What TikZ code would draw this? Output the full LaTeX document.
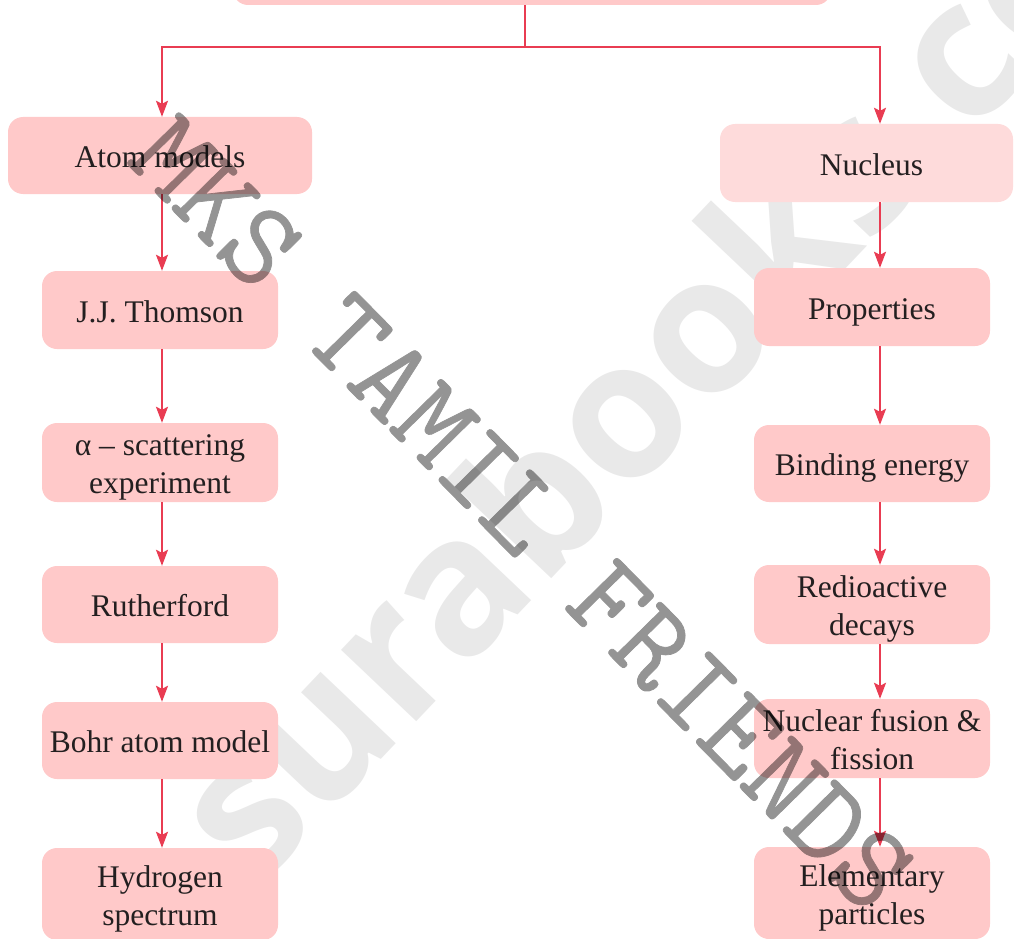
\documentclass[tikz,border=0pt]{standalone}
\usepackage{fontspec}
\setmainfont{Liberation Serif}
\newfontfamily\wmfont{Open Sans}
\newfontfamily\wmtt{Latin Modern Mono}[FakeBold=0.6]
\usetikzlibrary{arrows.meta}
\definecolor{boxpink}{RGB}{255,201,201}
\definecolor{nucpink}{RGB}{254,219,219}
\definecolor{linered}{RGB}{233,60,82}
\definecolor{txt}{RGB}{35,31,32}
\definecolor{wmgray}{RGB}{233,233,233}
\newcommand\twol[2]{\rule{0pt}{31.5pt}#1\\#2\rule[-7pt]{0pt}{7pt}}
\begin{document}
\begin{tikzpicture}[x=1pt,y=-1pt,
  box/.style={draw=none, fill=boxpink, rounded corners=15pt, minimum width=236pt,
    minimum height=78pt, inner sep=0pt, text=txt, font=\fontsize{31.5}{38}\selectfont},
  one/.style={text height=24pt, text depth=0pt},
  two/.style={align=center},
  ln/.style={draw=linered, line width=1.8pt},
  arr/.style={ln, -{Stealth[length=16pt,width=12pt,inset=3pt]}},
  wmA/.style={font=\wmfont\bfseries\fontsize{190}{190}\selectfont, text=wmgray, inner sep=0pt},
  wmB/.style={font=\wmtt\fontsize{121}{121}\selectfont, text=black, inner sep=0pt}]
\useasboundingbox (0,0) rectangle (1014,939);
\clip (0,0) rectangle (1014,939);
% background watermark
\node[wmA, rotate=46.5, anchor=base west] (wm1) at (255,892) {surabooks.com};
% boxes
\node[box, minimum width=598pt, minimum height=70pt] (top) at (532,-30) {};
\node[box, one, minimum width=304pt, minimum height=77pt] (atom) at (160,155.5) {Atom models};
\node[box, one, fill=nucpink, minimum width=293pt] (nuc) at (866.5,163) {\hspace*{10pt}Nucleus};
\node[box, one] (jj) at (160,310) {J.J. Thomson};
\node[box, two, minimum height=79pt] (alpha) at (160,462.5) {\twol{α – scattering}{experiment}};
\node[box, one, minimum height=77pt] (ruth) at (160,604.5) {Rutherford};
\node[box, one, minimum height=77pt] (bohr) at (160,740.5) {Bohr atom model};
\node[box, two, minimum height=92pt] (hyd) at (160,894) {\twol{Hydrogen}{spectrum}};
\node[box, one] (prop) at (872,307) {Properties};
\node[box, one, minimum height=77pt] (bind) at (872,463.5) {Binding energy};
\node[box, two, minimum height=79pt] (redio) at (872,604.5) {\twol{Redioactive}{decays}};
\node[box, two, minimum height=79pt] (nucf) at (872,738.5) {\twol{Nuclear fusion \&}{fission}};
\node[box, two, minimum height=92pt] (elem) at (872,893) {\twol{Elementary}{particles}};
% connectors
\coordinate (lx) at (162,0);
\coordinate (rx) at (880,0);
\coordinate (sp) at (525,47);
\draw[ln] (top.south -| sp) -- (sp);
\draw[arr] (sp) -| (atom.north -| lx);
\draw[arr] (sp) -| (nuc.north -| rx);
\draw[arr] (atom.south -| lx) -- (jj.north -| lx);
\draw[arr] (jj.south -| lx) -- (alpha.north -| lx);
\draw[arr] (alpha.south -| lx) -- (ruth.north -| lx);
\draw[arr] (ruth.south -| lx) -- (bohr.north -| lx);
\draw[arr] (bohr.south -| lx) -- (hyd.north -| lx);
\draw[arr] (nuc.south -| rx) -- (prop.north -| rx);
\draw[arr] (prop.south -| rx) -- (bind.north -| rx);
\draw[arr] (bind.south -| rx) -- (redio.north -| rx);
\draw[arr] (redio.south -| rx) -- (nucf.north -| rx);
\draw[arr] (nucf.south -| rx) -- (elem.north -| rx);
% overlay watermark
\begin{scope}[transparency group, opacity=0.42]
\node[wmB, rotate=-45.5] (wm2) at (522.5,513.5) {MKS TAMIL FRIENDS};
\end{scope}
\end{tikzpicture}
\end{document}
